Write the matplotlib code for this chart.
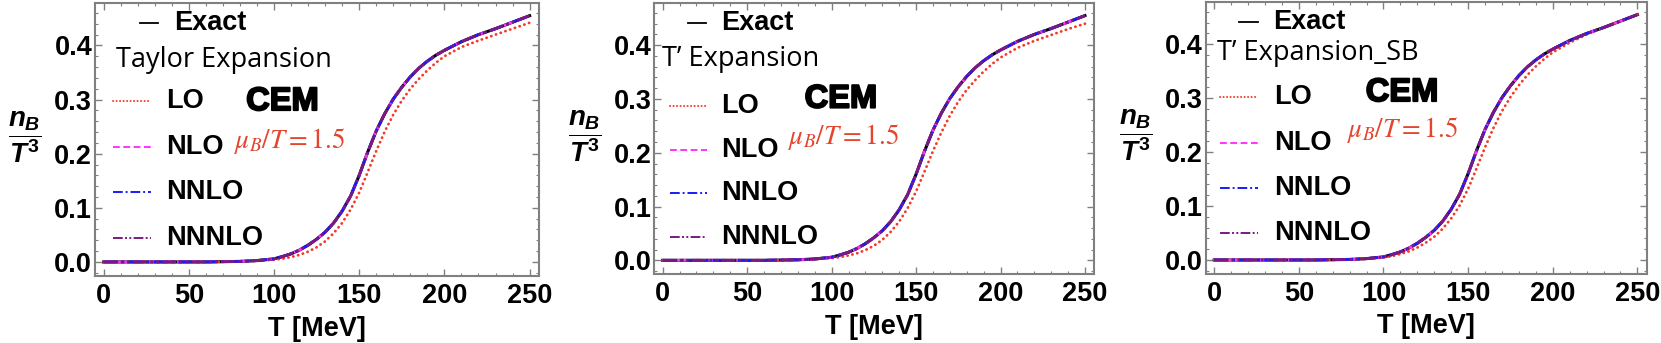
import matplotlib
matplotlib.use("Agg")
import matplotlib.pyplot as plt
import matplotlib.patheffects as pe
from matplotlib.ticker import MultipleLocator, FormatStrFormatter

plt.rcParams['font.family'] = ['Liberation Sans', 'DejaVu Sans']
plt.rcParams['mathtext.fontset'] = 'custom'
plt.rcParams['mathtext.it'] = 'Liberation Sans:italic:bold'
plt.rcParams['mathtext.rm'] = 'Liberation Sans:bold'
plt.rcParams['mathtext.bf'] = 'Liberation Sans:bold'

# temperature grid (MeV)
T = [0, 10, 20, 30, 40, 50, 60, 70, 80, 90, 100, 105, 110, 115, 120, 125, 130, 135,
     140, 145, 150, 155, 160, 165, 170, 175, 180, 185, 190, 195, 200, 210, 220, 230, 240, 250]

# n_B / T^3, exact CEM result (same in all three panels)
exact = [0, 0, 0, 0, 0, 0, 0, 0.0005, 0.001, 0.0025, 0.0057, 0.010, 0.015, 0.022, 0.031, 0.042,
         0.055, 0.072, 0.094, 0.122, 0.160, 0.203, 0.242, 0.274, 0.301, 0.323, 0.342, 0.358,
         0.371, 0.382, 0.391, 0.407, 0.420, 0.431, 0.443, 0.455]

# LO curves for each expansion
lo_taylor = [0, 0, 0, 0, 0, 0, 0, 0.0003, 0.0008, 0.002, 0.004, 0.006, 0.009, 0.013, 0.019, 0.027,
             0.038, 0.053, 0.072, 0.097, 0.128, 0.166, 0.205, 0.241, 0.272, 0.298, 0.320, 0.338,
             0.354, 0.368, 0.380, 0.397, 0.409, 0.420, 0.431, 0.442]
lo_tprime = [0, 0, 0, 0, 0, 0, 0, 0.0003, 0.0008, 0.002, 0.004, 0.006, 0.009, 0.013, 0.019, 0.027,
             0.038, 0.053, 0.072, 0.097, 0.128, 0.165, 0.203, 0.238, 0.269, 0.295, 0.317, 0.335,
             0.351, 0.365, 0.377, 0.395, 0.408, 0.419, 0.430, 0.440]
lo_tprime_sb = [0, 0, 0, 0, 0, 0, 0, 0.0003, 0.0009, 0.002, 0.0045, 0.007, 0.011, 0.016, 0.023, 0.032,
                0.043, 0.058, 0.077, 0.101, 0.132, 0.170, 0.209, 0.245, 0.276, 0.302, 0.324, 0.343,
                0.359, 0.373, 0.385, 0.403, 0.418, 0.431, 0.443, 0.455]

# higher orders lie on top of the exact curve
nlo = exact
nnlo = exact
nnnlo = exact

titles = ["Taylor Expansion", "T\u2019 Expansion", "T\u2019 Expansion_SB"]
lo_curves = [lo_taylor, lo_tprime, lo_tprime_sb]
order_labels = ["LO", "NLO", "NNLO", "NNNLO"]

styles = [
    dict(color='#f23a2a', ls=(0, (0.1, 1.7)), dash_capstyle='round'),
    dict(color='#ff33ff', ls=(0, (3.5, 1.8))),
    dict(color='#1a1aff', ls=(0, (5, 1.5, 1, 1.5))),
    dict(color='#7a1a80', ls=(0, (5, 1.2, 1, 1.2, 1, 1.2))),
]

# layout per panel (axes rect, legend positions in axes fraction)
rects = [[0.0572, 0.1953, 0.2673, 0.7968],
         [0.3939, 0.2003, 0.2649, 0.7918],
         [0.7259, 0.2012, 0.2655, 0.7939]]
layout = [
    dict(ex_line=(0.101, 0.143), ex_y=0.925, ex_txt=0.178, tt=(0.047, 0.790),
         lo_line=(0.040, 0.125), lo_txt=0.161, rows=[0.641, 0.473, 0.306, 0.140],
         cem=(0.422, 0.638), mu=(0.439, 0.495)),
    dict(ex_line=(0.077, 0.118), ex_y=0.924, ex_txt=0.151, tt=(0.017, 0.791),
         lo_line=(0.036, 0.119), lo_txt=0.153, rows=[0.620, 0.458, 0.298, 0.136],
         cem=(0.424, 0.645), mu=(0.431, 0.507)),
    dict(ex_line=(0.076, 0.119), ex_y=0.925, ex_txt=0.153, tt=(0.025, 0.810),
         lo_line=(0.032, 0.119), lo_txt=0.155, rows=[0.651, 0.482, 0.315, 0.149],
         cem=(0.445, 0.666), mu=(0.446, 0.529)),
]

fig = plt.figure(figsize=(16.61, 3.43), dpi=100)
frame_col = '#808080'
fs = 19.5

for i in range(3):
    ax = fig.add_axes(rects[i])
    L = layout[i]

    ax.plot(T, exact, color='black', lw=2.2)
    ax.plot(T, lo_curves[i], lw=2.0, **styles[0])
    ax.plot(T, nlo, lw=2.0, **styles[1])
    ax.plot(T, nnlo, lw=2.0, **styles[2])
    ax.plot(T, nnnlo, lw=2.0, **styles[3])

    ax.set_xlim(-5, 255.5)
    ax.set_ylim(-0.026, 0.479)
    ax.xaxis.set_major_locator(MultipleLocator(50))
    ax.xaxis.set_minor_locator(MultipleLocator(10))
    ax.yaxis.set_major_locator(MultipleLocator(0.1))
    ax.yaxis.set_minor_locator(MultipleLocator(0.02))
    ax.yaxis.set_major_formatter(FormatStrFormatter('%.1f'))
    ax.tick_params(which='both', direction='in', top=True, right=True, color=frame_col)
    ax.tick_params(which='major', length=5, width=1)
    ax.tick_params(which='minor', length=2.5, width=0.8)
    ax.tick_params(axis='x', which='major', labelsize=fs, pad=5)
    ax.tick_params(axis='y', which='major', labelsize=fs, pad=2)
    for lab in ax.get_xticklabels() + ax.get_yticklabels():
        lab.set_fontweight('bold')
    for sp in ax.spines.values():
        sp.set_color(frame_col)
        sp.set_linewidth(1.5)

    ax.set_xlabel("T [MeV]", fontsize=fs, fontweight='bold')
    ax.xaxis.set_label_coords(0.5, -0.145)
    ax.set_ylabel(r'$\dfrac{n_B}{T^3}$', fontsize=20, rotation=0, ha='center', va='center',
                  math_fontfamily='custom')
    ax.yaxis.set_label_coords(-0.158, 0.51)

    # legend: Exact
    ax.plot(L['ex_line'], [L['ex_y']] * 2, color='black', lw=1.3, transform=ax.transAxes)
    ax.text(L['ex_txt'], L['ex_y'], "Exact", transform=ax.transAxes, fontsize=fs,
            fontweight='bold', va='center', ha='left')
    # legend title
    ax.text(L['tt'][0], L['tt'][1], titles[i], transform=ax.transAxes, fontsize=19.5,
            family=['Open Sans', 'DejaVu Sans'], va='center', ha='left')
    # order entries
    for k in range(4):
        y = L['rows'][k]
        ax.plot(L['lo_line'], [y, y], lw=1.4, transform=ax.transAxes, **styles[k])
        ax.text(L['lo_txt'], y, order_labels[k], transform=ax.transAxes, fontsize=fs,
                fontweight='bold', va='center', ha='left')

    ax.text(L['cem'][0], L['cem'][1], "CEM", transform=ax.transAxes, fontsize=23.5,
            fontweight='bold', va='center', ha='center',
            path_effects=[pe.withStroke(linewidth=1.4, foreground='black')])
    ax.text(L['mu'][0], L['mu'][1], r'$\mu_B/T=1.5$', transform=ax.transAxes, fontsize=19.5,
            color='#e4452e', va='center', ha='center', math_fontfamily='stix')

fig.savefig("out.png", dpi=100)
